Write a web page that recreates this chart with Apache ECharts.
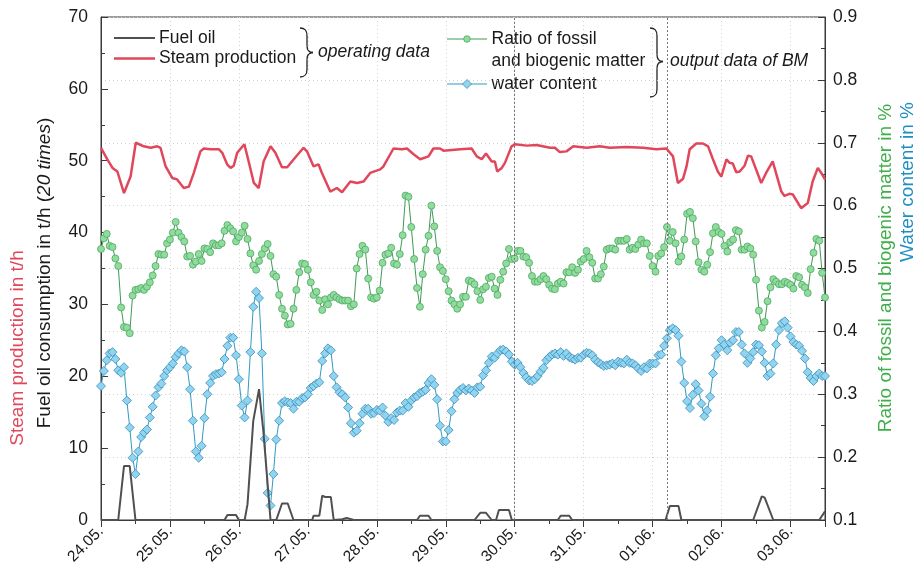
<!DOCTYPE html>
<html><head><meta charset="utf-8">
<script src="https://cdn.jsdelivr.net/npm/echarts@6/dist/echarts.min.js"></script>
<style>html,body{margin:0;padding:0;background:#fff}#c{width:919px;height:573px}</style>
</head><body><div id="c"></div>
<script>
// ---------- data ----------
const dayLabels = ['24.05.','25.05.','26.05.','27.05.','28.05.','29.05.','30.05.','31.05.','01.06.','02.06.','03.06.'];
// hours since 24.05. 00:00
const steamHours = [0,2.2,4,5.7,8,10.3,12.1,14.9,17.3,19.6,20.7,22.5,24.8,26.5,28.8,30.6,32.3,34.6,35.8,38.1,41,42.2,43.9,45.1,46.2,47.4,49.9,51.4,53.2,54.9,56.6,59,60.7,63,64.8,67.1,70.5,71.7,74,75.7,76.9,79.8,82.1,83.9,86.8,89.1,91.4,93.7,97.2,98.3,101.8,104.7,106.5,108.8,111.1,114,115.7,118,119.2,125,129,130.8,132.5,134,136,137.1,137.9,139.5,140.6,142.9,144.1,148.2,151.6,156.3,158,159.7,162,164.4,169,173.6,177.1,182.9,188.7,193.3,196.8,199.1,200.8,202.6,203.8,204.9,207.2,209.5,211.3,213,214.7,215.9,217.7,218.8,219.9,221.1,222.3,224,225.2,226.3,229.8,231.5,233.8,236.8,237.9,239.6,240.8,243.7,246,247.7,249.5,250.7,252];
const steamValues = [51.8,50.2,49.0,48.5,45.5,47.8,52.5,52.0,51.8,52.0,51.8,49.2,47.6,47.4,46.2,46.4,48.3,51.3,51.7,51.6,51.6,51.1,49.5,49.0,49.3,51.1,52.3,49.9,46.9,46.2,49.9,52.0,51.1,49.1,49.1,50.2,51.8,51.3,49.2,49.5,48.3,45.7,46.2,45.6,47.1,46.9,47.1,48.3,48.8,49.2,51.7,51.6,51.7,50.9,50.2,50.6,51.7,51.7,51.4,51.6,51.7,50.6,50.2,51.0,49.9,49.9,48.5,49.0,49.7,52.0,52.3,52.1,52.2,51.8,51.8,51.2,51.3,52.0,51.8,52.0,51.8,51.9,51.8,51.6,51.7,50.6,46.9,47.5,49.2,51.6,52.4,52.4,52.0,50.2,48.5,47.8,50.2,49.7,49.6,48.4,48.5,49.3,50.7,50.6,46.9,48.3,49.9,45.7,45.1,45.4,45.3,43.4,44.1,47.1,49.0,48.3,47.4];
const fuelHours = [0,6,8,10,12,43,44,47,48,50,51,53,55,56.5,58,59,61,63,65,67,73.5,74,76,77,78,80,81,84,85.5,88,110,111,114,115,130,132,134,136,137.5,138.5,142,143,159,160,163,164,196.5,198,201,202,227,230,231,234,250,252];
const fuelValues = [0,0,7.5,7.5,0,0,0.7,0.7,0,0,2.2,13.8,18.2,12.4,5,0,0,2.3,2.3,0,0,0.6,0.6,3.4,3.2,3.2,0,0.1,0.3,0,0,0.6,0.6,0,0,1.0,1.0,0,0,1.4,1.4,0,0,0.6,0.6,0,0,1.95,1.95,0,0,3.3,3.1,0,0,1.2];
// hourly values from 24.05. 00:00
const ratioValues = [0.531,0.548,0.555,0.536,0.534,0.516,0.504,0.438,0.407,0.406,
0.397,0.457,0.466,0.467,0.469,0.466,0.471,0.478,0.489,0.504,
0.523,0.522,0.522,0.540,0.546,0.557,0.574,0.557,0.550,0.543,
0.519,0.520,0.506,0.511,0.523,0.512,0.532,0.531,0.526,0.540,
0.537,0.537,0.540,0.560,0.569,0.564,0.559,0.543,0.550,0.557,
0.568,0.547,0.524,0.505,0.498,0.512,0.523,0.532,0.539,0.520,
0.491,0.487,0.458,0.436,0.425,0.411,0.412,0.436,0.466,0.494,
0.508,0.507,0.498,0.478,0.458,0.463,0.449,0.434,0.451,0.443,
0.454,0.458,0.454,0.451,0.449,0.449,0.449,0.440,0.443,0.500,
0.523,0.536,0.530,0.484,0.454,0.452,0.454,0.465,0.509,0.522,
0.524,0.533,0.508,0.506,0.523,0.553,0.616,0.614,0.566,0.515,
0.469,0.439,0.491,0.530,0.552,0.600,0.567,0.528,0.502,0.496,
0.483,0.464,0.449,0.443,0.436,0.443,0.455,0.455,0.481,0.479,
0.475,0.464,0.450,0.467,0.471,0.485,0.487,0.468,0.458,0.482,
0.495,0.508,0.531,0.515,0.516,0.528,0.528,0.519,0.518,0.509,
0.488,0.479,0.479,0.483,0.488,0.483,0.474,0.468,0.467,0.476,
0.479,0.476,0.494,0.494,0.502,0.493,0.498,0.511,0.515,0.528,
0.518,0.509,0.484,0.484,0.491,0.503,0.530,0.532,0.532,0.530,
0.544,0.544,0.544,0.547,0.530,0.533,0.531,0.538,0.546,0.540,
0.540,0.520,0.504,0.495,0.520,0.524,0.534,0.566,0.544,0.558,
0.540,0.511,0.519,0.546,0.587,0.590,0.580,0.543,0.510,0.498,
0.495,0.506,0.526,0.556,0.566,0.558,0.555,0.536,0.527,0.542,
0.546,0.561,0.559,0.530,0.530,0.535,0.532,0.522,0.482,0.433,
0.406,0.415,0.448,0.470,0.483,0.479,0.475,0.475,0.479,0.477,
0.474,0.468,0.488,0.486,0.474,0.470,0.461,0.499,0.525,0.547,
0.544,0.493,0.454];
const waterValues = [0.313,0.337,0.354,0.365,0.367,0.356,0.338,0.334,0.343,0.290,
0.247,0.199,0.173,0.209,0.232,0.239,0.244,0.263,0.280,0.298,
0.311,0.317,0.329,0.338,0.343,0.349,0.359,0.365,0.370,0.368,
0.343,0.308,0.258,0.209,0.199,0.218,0.262,0.300,0.318,0.329,
0.332,0.333,0.335,0.356,0.377,0.390,0.390,0.362,0.324,0.282,
0.263,0.290,0.367,0.439,0.463,0.453,0.365,0.229,0.143,0.123,
0.173,0.228,0.258,0.286,0.289,0.287,0.286,0.277,0.288,0.288,
0.294,0.295,0.300,0.310,0.313,0.317,0.319,0.353,0.365,0.373,
0.370,0.329,0.311,0.303,0.300,0.295,0.279,0.254,0.239,0.242,
0.254,0.269,0.277,0.277,0.269,0.270,0.275,0.274,0.279,0.266,
0.256,0.262,0.259,0.271,0.274,0.274,0.286,0.280,0.290,0.295,
0.297,0.302,0.304,0.307,0.318,0.324,0.315,0.292,0.250,0.225,
0.225,0.243,0.273,0.292,0.302,0.307,0.310,0.306,0.309,0.306,
0.302,0.311,0.312,0.330,0.338,0.350,0.360,0.358,0.365,0.370,
0.371,0.368,0.363,0.352,0.347,0.350,0.343,0.334,0.327,0.322,
0.321,0.324,0.329,0.336,0.342,0.354,0.359,0.363,0.365,0.363,
0.367,0.361,0.365,0.359,0.357,0.355,0.358,0.358,0.363,0.366,
0.365,0.362,0.355,0.351,0.348,0.345,0.346,0.347,0.349,0.346,
0.352,0.350,0.349,0.355,0.350,0.349,0.346,0.341,0.337,0.343,
0.341,0.349,0.349,0.349,0.362,0.363,0.377,0.389,0.402,0.405,
0.402,0.393,0.352,0.318,0.289,0.278,0.299,0.316,0.306,0.285,
0.265,0.274,0.296,0.333,0.362,0.373,0.386,0.379,0.370,0.382,
0.386,0.399,0.399,0.379,0.365,0.350,0.357,0.367,0.379,0.378,
0.368,0.350,0.329,0.333,0.349,0.379,0.402,0.413,0.416,0.406,
0.392,0.383,0.379,0.377,0.369,0.357,0.335,0.326,0.321,0.329,
0.333,0.329,0.329];
const markerHours = [144, 197]; // 30.05. 00:00, 01.06. 05:00
const leftTicks = {min: 0, max: 70, step: 10};
const rightTicks = {min: 0.1, max: 0.9, step: 0.1};

// ---------- chart ----------
const FONT = '"Liberation Sans", Arial, sans-serif';
const C = {steam:'#e0475b', fuel:'#505050', ratioLine:'#3f9a55', ratioFill:'#8fdc9c', ratioBorder:'#4fa865',
           waterLine:'#2f9bc4', waterFill:'#8fd4f0', waterBorder:'#3a8db5', axis:'#3a3a3a', grid:'#d2d2d2', text:'#1a1a1a'};
const chart = echarts.init(document.getElementById('c'), null, {renderer:'canvas'});
const pairs = (xs, ys) => xs.map((x,i)=>[x, ys[i]]);
const hourly = ys => ys.map((y,i)=>[i, y]);

function brace(x0, y0, y1, ym, tip){
  const w = 7, st = {stroke:'#222', lineWidth:1.3, fill:null};
  const bz = (x1,y1,cpx1,cpy1,cpx2,cpy2,x2,y2) => ({type:'bezierCurve', shape:{x1,y1,cpx1,cpy1,cpx2,cpy2,x2,y2}, style:st});
  const ln = (x1,y1,x2,y2) => ({type:'line', shape:{x1,y1,x2,y2}, style:st});
  const xw = x0 + w;
  return [
    bz(x0,y0, x0+5,y0, xw,y0+2, xw,y0+8),
    ln(xw,y0+8, xw,ym-7),
    bz(xw,ym-7, xw,ym-2, xw+2,ym, tip,ym),
    bz(tip,ym, xw+2,ym, xw,ym+2, xw,ym+7),
    ln(xw,ym+7, xw,y1-8),
    bz(xw,y1-8, xw,y1-2, x0+5,y1, x0,y1)
  ];
}
const legendText = (x,y,t,italic) => ({type:'text', x, y, style:{text:t, font:`${italic?'italic ':''}17.5px ${FONT}`, fill:C.text, verticalAlign:'middle', align:'left'}});
const TF = 19;

const option = {
  animation:false,
  backgroundColor:'#fff',
  grid:{left:101, right:94, top:17, bottom:53, show:true, borderColor:C.axis, borderWidth:1, backgroundColor:'transparent'},
  xAxis:{type:'value', min:0, max:252, interval:24,
    axisLine:{show:true, lineStyle:{color:C.axis, width:1}},
    axisTick:{show:true, inside:false, length:7, lineStyle:{color:C.axis}},
    minorTick:{show:true, splitNumber:2, length:4, lineStyle:{color:C.axis}},
    splitLine:{show:true, lineStyle:{color:C.grid, type:[1,3], width:1}},
    axisLabel:{rotate:45, fontSize:15.5, fontFamily:FONT, color:C.text, margin:9, showMaxLabel:false,
      formatter:v => (v % 24 === 0 && dayLabels[v/24]) ? dayLabels[v/24] : ''}},
  yAxis:[
    {type:'value', position:'left', min:leftTicks.min, max:leftTicks.max, interval:leftTicks.step,
      axisLine:{show:true, lineStyle:{color:C.axis}},
      axisTick:{show:true, inside:true, length:7, lineStyle:{color:C.axis}},
      minorTick:{show:true, splitNumber:2, length:4, lineStyle:{color:C.axis}},
      splitLine:{show:false},
      axisLabel:{fontSize:17.5, fontFamily:FONT, color:C.text, margin:13}},
    {type:'value', position:'right', min:rightTicks.min, max:rightTicks.max, interval:rightTicks.step,
      axisLine:{show:true, lineStyle:{color:C.axis}},
      axisTick:{show:true, inside:true, length:7, lineStyle:{color:C.axis}},
      minorTick:{show:true, splitNumber:2, length:4, lineStyle:{color:C.axis}},
      splitLine:{show:true, lineStyle:{color:C.grid, type:[1,3], width:1}},
      axisLabel:{fontSize:17.5, fontFamily:FONT, color:C.text, margin:8, formatter:v=>v.toFixed(1)}}
  ],
  series:[
    {name:'water content', type:'line', yAxisIndex:1, data:hourly(waterValues), symbol:'diamond', symbolSize:9,
      lineStyle:{color:C.waterLine, width:1}, itemStyle:{color:C.waterFill, borderColor:C.waterBorder, borderWidth:0.8}, z:3},
    {name:'Ratio of fossil and biogenic matter', type:'line', yAxisIndex:1, data:hourly(ratioValues), symbol:'circle', symbolSize:7,
      lineStyle:{color:C.ratioLine, width:1}, itemStyle:{color:C.ratioFill, borderColor:C.ratioBorder, borderWidth:0.8}, z:3},
    {name:'Fuel oil', type:'line', yAxisIndex:0, data:pairs(fuelHours, fuelValues), symbol:'none',
      lineStyle:{color:C.fuel, width:2}, z:4,
      markLine:{silent:true, symbol:['none','none'], label:{show:false},
        lineStyle:{color:'#777', type:[2,2], width:1}, data:markerHours.map(h=>({xAxis:h}))}},
    {name:'Steam production', type:'line', yAxisIndex:0, data:pairs(steamHours, steamValues), symbol:'none',
      lineStyle:{color:C.steam, width:2.5}, z:5}
  ],
  graphic:[
    {type:'line', shape:{x1:114, y1:38, x2:155, y2:38}, style:{stroke:C.fuel, lineWidth:2}},
    legendText(159, 38, 'Fuel oil'),
    {type:'line', shape:{x1:114, y1:58.5, x2:155, y2:58.5}, style:{stroke:C.steam, lineWidth:2.5}},
    legendText(159, 58.5, 'Steam production'),
    ...brace(300, 28, 77, 52.5, 313),
    legendText(318, 52.5, 'operating data', true),
    {type:'line', shape:{x1:447, y1:39, x2:487, y2:39}, style:{stroke:C.ratioLine, lineWidth:1}},
    {type:'circle', shape:{cx:467, cy:39, r:3.3}, style:{fill:C.ratioFill, stroke:C.ratioBorder, lineWidth:0.8}},
    legendText(491.5, 39, 'Ratio of fossil'),
    legendText(491.5, 61.5, 'and biogenic matter'),
    {type:'line', shape:{x1:447, y1:84, x2:487, y2:84}, style:{stroke:C.waterLine, lineWidth:1}},
    {type:'polygon', shape:{points:[[467,79.5],[471.5,84],[467,88.5],[462.5,84]]}, style:{fill:C.waterFill, stroke:C.waterBorder, lineWidth:0.8}},
    legendText(491.5, 84, 'water content'),
    ...brace(650, 28, 97, 61.5, 663),
    legendText(670, 61.5, 'output data of BM', true),
    {type:'text', x:18, y:348, rotation:Math.PI/2, style:{text:'Steam production in t/h', font:`${TF}px ${FONT}`, fill:C.steam, align:'center', verticalAlign:'middle'}},
    {type:'text', x:45, y:273, rotation:Math.PI/2, style:{
      text:'{n|Fuel oil consumption in t/h (}{i|20 times}{n|)}',
      rich:{n:{font:`${TF}px ${FONT}`, fill:C.text}, i:{font:`italic ${TF}px ${FONT}`, fill:C.text}},
      align:'center', verticalAlign:'middle'}},
    {type:'text', x:886, y:268, rotation:Math.PI/2, style:{text:'Ratio of fossil and biogenic matter in %', font:`${TF}px ${FONT}`, fill:'#3fae4a', align:'center', verticalAlign:'middle'}},
    {type:'text', x:908, y:182, rotation:Math.PI/2, style:{text:'Water content in %', font:`${TF}px ${FONT}`, fill:'#1f8fc0', align:'center', verticalAlign:'middle'}}
  ]
};
chart.setOption(option);
</script>
</body></html>
